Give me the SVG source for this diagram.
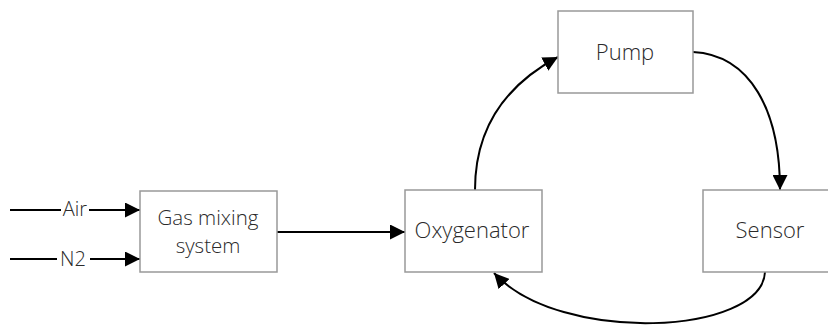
<svg xmlns="http://www.w3.org/2000/svg" width="828" height="331" viewBox="0 0 828 331">
<style>
.box{fill:#fff;stroke:#999;stroke-width:1.5}
.t{font-family:"Open Sans","Liberation Sans",sans-serif;font-weight:300;font-size:22px;fill:#2a2a2a;text-anchor:middle}
.l{font-size:20px}
.s{font-size:20.5px}
.c{fill:none;stroke:#000;stroke-width:2}
</style>
<defs>
<marker id="ah" markerUnits="userSpaceOnUse" markerWidth="15" markerHeight="15" refX="15" refY="7.5" orient="auto">
<path d="M0,0 L15,7.5 L0,15 z" fill="#000"/>
</marker>
</defs>
<g id="connectors">
<path class="c" d="M10,210 L140,210" marker-end="url(#ah)"/>
<path class="c" d="M10,259 L140,259" marker-end="url(#ah)"/>
<path class="c" d="M277,232 L405,232" marker-end="url(#ah)"/>
<path class="c" d="M475,190 C475,120 515,80 558,57" marker-end="url(#ah)"/>
<path class="c" d="M693,52 C750,55 780,110 780,190" marker-end="url(#ah)"/>
<path class="c" d="M765,272 C762,335 560,345 494,273" marker-end="url(#ah)"/>
<rect x="61" y="198" width="28" height="22" fill="#fff"/>
<text class="t l" x="75" y="216">Air</text>
<rect x="57" y="246" width="33" height="22" fill="#fff"/>
<text class="t l" x="73" y="266">N2</text>
</g>
<g id="gas-mixing">
<rect class="box" x="140" y="191" width="137" height="81"/>
<text class="t s" x="208" y="225">Gas mixing</text>
<text class="t s" x="208" y="253">system</text>
</g>
<g id="oxygenator">
<rect class="box" x="405" y="190" width="137" height="82"/>
<text class="t" x="472" y="238">Oxygenator</text>
</g>
<g id="pump">
<rect class="box" x="558" y="11" width="135" height="82"/>
<text class="t" x="625" y="60">Pump</text>
</g>
<g id="sensor">
<rect class="box" x="703" y="190" width="137" height="82"/>
<text class="t" x="770" y="238">Sensor</text>
</g>
</svg>
